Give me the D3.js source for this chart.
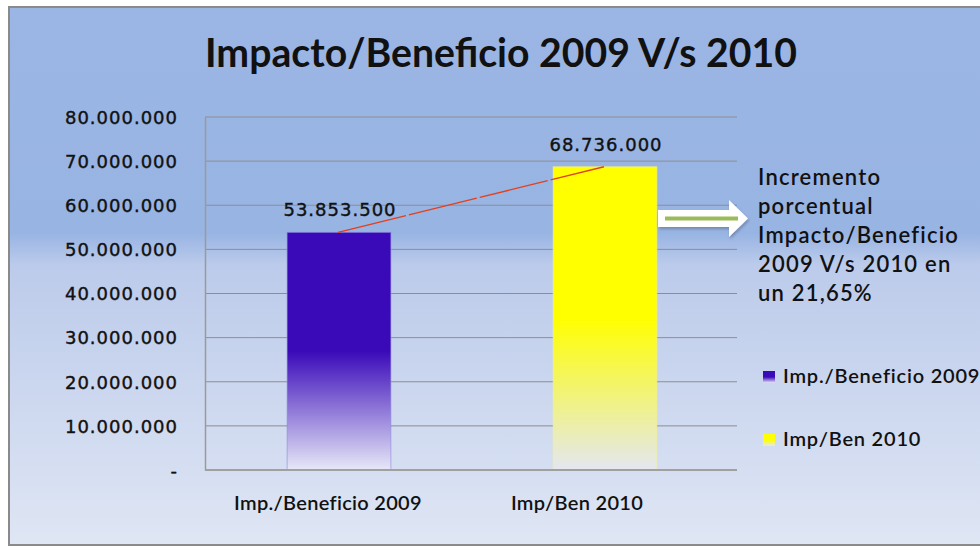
<!DOCTYPE html>
<html>
<head>
<meta charset="utf-8">
<script src="https://cdn.jsdelivr.net/npm/d3@7"></script>
<style>
  body { margin: 0; background: #fff; }
  svg { display: block; }
</style>
</head>
<body>
<svg id="chart" width="980" height="547"></svg>
<script>
// Datos del grafico
const categories = ["Imp./Beneficio 2009", "Imp/Ben 2010"];
const values = [53853500, 68736000];
const yTicks = [0, 10000000, 20000000, 30000000, 40000000, 50000000, 60000000, 70000000, 80000000];
const noteLines = ["Incremento", "porcentual", "Impacto/Beneficio", "2009 V/s 2010 en", "un 21,65%"];
const titleText = "Impacto/Beneficio 2009 V/s 2010";

// Colores de cada serie
const barColors = ["#3a0ab9", "#ffff00"];

const svg = d3.select("#chart");
const defs = svg.append("defs");

// fondo degradado
const bg = defs.append("linearGradient").attr("id", "bg").attr("x1", 0).attr("y1", 0).attr("x2", 0).attr("y2", 1);
bg.append("stop").attr("offset", "0").attr("stop-color", "#9bb6e4");
bg.append("stop").attr("offset", "0.42").attr("stop-color", "#98b4e3");
bg.append("stop").attr("offset", "0.48").attr("stop-color", "#bccbeb");
bg.append("stop").attr("offset", "1").attr("stop-color", "#dfe6f4");

// degradado de las barras
const fades = ["#e6e8f7", "#e4e7f0"];
const solidTo = [0.5, 0.5];
barColors.forEach(function(c, i){
  const g = defs.append("linearGradient").attr("id", "bar" + i).attr("x1", 0).attr("y1", 0).attr("x2", 0).attr("y2", 1);
  g.append("stop").attr("offset", 0).attr("stop-color", c);
  g.append("stop").attr("offset", solidTo[i]).attr("stop-color", c);
  g.append("stop").attr("offset", 1).attr("stop-color", fades[i]);
});

const shadow = defs.append("filter").attr("id", "shadow").attr("x", "-20%").attr("y", "-50%").attr("width", "140%").attr("height", "200%");
shadow.append("feDropShadow").attr("dx", 1).attr("dy", 2).attr("stdDeviation", 1.5).attr("flood-color", "#000").attr("flood-opacity", 0.25);

svg.append("rect").attr("x", 9).attr("y", 7).attr("width", 990).attr("height", 538)
  .attr("fill", "url(#bg)").attr("stroke", "#8a8a8a").attr("stroke-width", 2);

// titulo
svg.append("text").attr("x", 501).attr("y", 67).attr("text-anchor", "middle")
  .style("font-family", "Lato").style("font-weight", "bold").style("font-size", "40px")
  .attr("textLength", 592).attr("lengthAdjust", "spacingAndGlyphs")
  .attr("fill", "#111").text(titleText);

// escalas
const plot = {left: 205, right: 737, top: 117, bottom: 470};
const x = d3.scaleBand().domain(categories).range([plot.left, plot.right]).padding(0);
const y = d3.scaleLinear().domain([0, 80000000]).range([plot.bottom, plot.top]);
const barW = x.bandwidth() * 0.39;

const es = d3.formatLocale({decimal: ",", thousands: ".", grouping: [3], currency: ["$", ""]});
const fmt = es.format(",.0f");

// grilla
svg.append("g").selectAll("line").data(yTicks.filter(d => d > 0)).join("line")
  .attr("x1", plot.left).attr("x2", plot.right)
  .attr("y1", d => y(d)).attr("y2", d => y(d))
  .attr("stroke", "#8e8e8e").attr("stroke-width", 1);

// eje y
const yAxis = d3.axisLeft(y).tickValues(yTicks).tickSize(0).tickPadding(27)
  .tickFormat(d => d === 0 ? "-" : fmt(d));
const gy = svg.append("g").attr("transform", "translate(" + plot.left + ",0)").call(yAxis);
gy.select(".domain").attr("stroke", "#9a9a9a").attr("stroke-width", 1.5);
gy.selectAll("text").style("font-family", "DejaVu Sans").style("font-size", "18px")
  .style("letter-spacing", "1px").attr("fill", "#111")
  .attr("stroke", "#111").attr("stroke-width", 0.4).attr("dy", "0.35em");

// barras
svg.append("g").selectAll("rect").data(values).join("rect")
  .attr("x", (d, i) => x(categories[i]) + x.bandwidth() / 2 - barW / 2 + 1)
  .attr("y", d => y(d))
  .attr("width", barW)
  .attr("height", d => y(0) - y(d))
  .attr("fill", (d, i) => "url(#bar" + i + ")")
  .attr("stroke", (d, i) => i === 0 ? "#8c86e0" : "#f0f08a").attr("stroke-opacity", 0.6).attr("stroke-width", 1);

// eje x
svg.append("line").attr("x1", plot.left).attr("x2", plot.right)
  .attr("y1", plot.bottom).attr("y2", plot.bottom)
  .attr("stroke", "#a0a0a0").attr("stroke-width", 2);

const labelShift = [-10, -27];
svg.append("g").selectAll("text").data(categories).join("text")
  .attr("x", (d, i) => x(d) + x.bandwidth() / 2 + labelShift[i])
  .attr("y", 510).attr("text-anchor", "middle")
  .style("font-family", "Lato").style("font-weight", "600").style("font-size", "20px")
  .style("letter-spacing", "0.3px")
  .attr("fill", "#111").text(d => d);

// linea roja entre barras
const line = d3.line()
  .x((d, i) => x(categories[i]) + x.bandwidth() / 2)
  .y(d => y(d));
svg.append("path").datum(values).attr("d", line)
  .attr("fill", "none").attr("stroke", "#e2401c").attr("stroke-width", 1.4)
  .attr("stroke-dasharray", "70 3");

// etiquetas de valores
svg.append("g").selectAll("text").data(values).join("text")
  .attr("x", (d, i) => x(categories[i]) + x.bandwidth() / 2 + 2)
  .attr("y", d => y(d) - 16).attr("text-anchor", "middle")
  .style("font-family", "DejaVu Sans").style("font-size", "18px").style("letter-spacing", "1px")
  .attr("stroke", "#111").attr("stroke-width", 0.4)
  .attr("fill", "#111").text(d => fmt(d));

// flecha
const arrow = svg.append("g").attr("filter", "url(#shadow)");
arrow.append("path")
  .attr("d", "M658,210 L729,210 L729,200 L748,218.5 L729,237 L729,227 L658,227 Z")
  .attr("fill", "#fff");
svg.append("line").attr("x1", 665).attr("x2", 738).attr("y1", 218.5).attr("y2", 218.5)
  .attr("stroke", "#9bbb59").attr("stroke-width", 4);

// nota
svg.append("g").selectAll("text").data(noteLines).join("text")
  .attr("x", 758).attr("y", (d, i) => 185 + i * 29)
  .style("font-family", "Lato").style("font-weight", "600").style("font-size", "22px")
  .style("letter-spacing", "1.2px")
  .attr("fill", "#111").text(d => d);

// leyenda
const leg = svg.append("g").selectAll("g").data(categories).join("g")
  .attr("transform", (d, i) => "translate(763," + (371 + i * 63) + ")");
leg.append("rect").attr("width", 12).attr("height", 12)
  .attr("fill", (d, i) => "url(#bar" + i + ")");
leg.append("text").attr("x", 20).attr("y", 12)
  .style("font-family", "Lato").style("font-weight", "600").style("font-size", "20px")
  .style("letter-spacing", "0.8px")
  .attr("fill", "#111").text(d => d);
</script>
</body>
</html>
